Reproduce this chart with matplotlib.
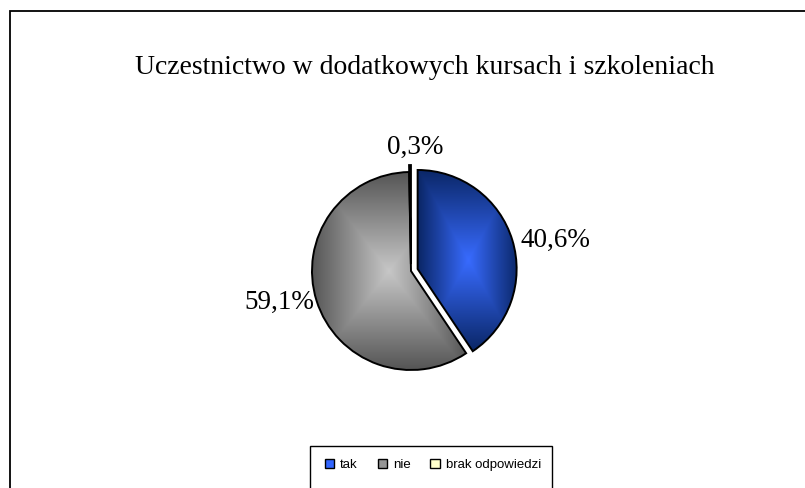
import numpy as np
import matplotlib
matplotlib.use("Agg")
import matplotlib.pyplot as plt
from matplotlib.patches import Rectangle, Patch

# data
labels = ["tak", "nie", "brak odpowiedzi"]
values = [40.6, 59.1, 0.3]
title = "Uczestnictwo w dodatkowych kursach i szkoleniach"

# styles
inner_colors = [(0.22, 0.42, 1.0), (0.78, 0.78, 0.78), (1.0, 1.0, 0.8)]
outer_colors = [(0.04, 0.15, 0.40), (0.33, 0.33, 0.33), (0.85, 0.85, 0.6)]
legend_colors = ["#3366ff", "#969696", "#ffffcc"]
explode = [0.07, 0.0, 0.07]
label_angle = [12.1, 193.6, 88.0]
label_dist = [1.49, 1.37, 1.25]

W, H = 805, 488
fig = plt.figure(figsize=(W / 100, H / 100), dpi=100)

# outer chart border (right/bottom edges fall outside the image)
fig.patches.append(Rectangle((9.5 / W, -0.1), 1.2, 1.1 - 11.5 / H,
                             transform=fig.transFigure, fill=False,
                             edgecolor="black", linewidth=1.3))

fig.text(425 / W, 1 - 67 / H, title, ha="center", va="center",
         fontsize=20, family="Liberation Serif")

# pie axes: centre at (411, 271) px, radius 99 px
cx, cy, r = 411, 271, 99
half = 200
ax = fig.add_axes([(cx - half) / W, (H - cy - half) / H, 2 * half / W, 2 * half / H])
ax.axis("off")

wedges, _ = ax.pie(values, startangle=90, counterclock=False, explode=explode,
                   wedgeprops=dict(edgecolor="black", linewidth=1.4))

for w, c_in, c_out in zip(wedges, inner_colors, outer_colors):
    verts = w.get_patch_transform().transform(w.get_path().vertices)
    x0, y0 = verts.min(axis=0)
    x1, y1 = verts.max(axis=0)
    n = 200
    gx, gy = np.meshgrid(np.linspace(-1, 1, n), np.linspace(-1, 1, n))
    t = np.maximum(np.abs(gx), np.abs(gy))[..., None]
    img = np.array(c_in) * (1 - t) + np.array(c_out) * t
    im = ax.imshow(img, extent=[x0, x1, y0, y1], origin="lower",
                   interpolation="bilinear", zorder=0.5, aspect="auto")
    im.set_clip_path(w)
    w.set_facecolor("none")
    w.set_zorder(1)

ax.set_xlim(-half / r, half / r)
ax.set_ylim(-half / r, half / r)

for v, a, d in zip(values, label_angle, label_dist):
    ang = np.deg2rad(a)
    ax.text(d * np.cos(ang), d * np.sin(ang),
            f"{v:.1f}%".replace(".", ","), ha="center", va="center",
            fontsize=19.5, family="Liberation Serif")

# legend box (bottom edge falls outside the image)
fig.patches.append(Rectangle((310 / W, -0.1), 242 / W, 0.1 + (H - 446) / H,
                             transform=fig.transFigure, fill=False,
                             edgecolor="black", linewidth=1.0))
handles = [Patch(facecolor=c, edgecolor="black", linewidth=1.0) for c in legend_colors]
fig.legend(handles, labels, loc="center", bbox_to_anchor=(433 / W, 1 - 465 / H),
           ncol=3, frameon=False, handlelength=0.7, handleheight=0.7,
           handletextpad=0.45, columnspacing=1.5,
           prop=dict(family="Liberation Sans", size=9.5))

fig.savefig("out.png", dpi=100)
